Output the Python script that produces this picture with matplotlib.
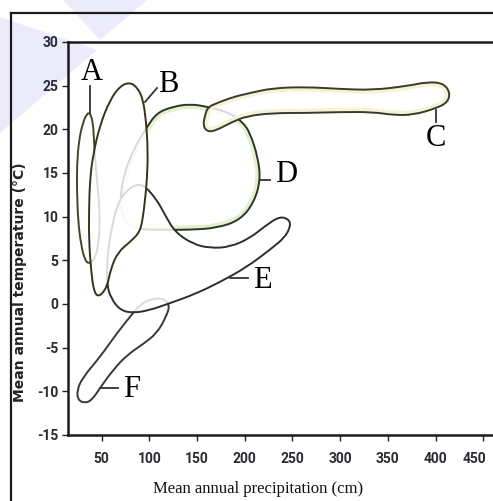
import numpy as np
import matplotlib
matplotlib.use("Agg")
import matplotlib.pyplot as plt
from matplotlib.path import Path
from matplotlib.patches import PathPatch, Polygon
from matplotlib.lines import Line2D
from matplotlib.transforms import ScaledTranslation

# biome outlines: (precipitation cm, temperature C)
a_precip = [37.7, 40.9, 41.9, 44.0, 47.2, 48.2, 46.1, 41.9, 36.7, 32.5, 28.3, 25.2, 24.1, 24.1, 26.2, 30.4, 34.6]
a_temp = [21.9, 20.8, 18.8, 15.3, 11.9, 9.0, 6.4, 5.0, 4.6, 5.0, 6.8, 9.6, 13.1, 15.9, 18.8, 20.8, 21.8]

b_precip = [79.7, 88.1, 93.3, 96.4, 98.5, 97.5, 95.4, 93.3, 90.1, 79.7, 67.1, 59.7, 55.6, 47.2, 41.9, 38.8, 36.7, 36.7, 37.7, 40.9, 48.2, 58.7, 69.2]
b_temp = [25.4, 24.7, 23.4, 21.1, 17.6, 14.2, 11.9, 9.95, 8.24, 7.1, 5.95, 4.1, 1.9, 0.79, 1.36, 3.88, 7.32, 10.76, 14.19, 17.06, 20.49, 23.36, 24.96]

c_precip = [158.3, 161.4, 170.9, 187.6, 205.5, 229.6, 265.2, 299.8, 334.4, 370.0, 391.0, 407.8, 415.1, 413.0, 401.5, 376.3, 355.3, 334.4, 299.8, 265.2, 229.6, 202.3, 186.6, 170.9, 161.4, 156.2]
c_temp = [21.64, 22.55, 23.01, 23.70, 24.16, 24.73, 24.85, 24.62, 24.50, 24.96, 25.42, 25.30, 24.27, 23.13, 22.44, 21.64, 21.64, 21.98, 21.98, 21.87, 21.87, 21.52, 20.84, 19.92, 19.69, 20.38]

d_precip = [97.5, 108.0, 124.7, 142.6, 160.4, 184.5, 198.0, 205.5, 213.8, 216.5, 209.6, 195.0, 170.9, 142.6, 121.6, 100.6, 90.1, 79.7, 72.3, 69.2, 72.3, 82.8]
d_temp = [20.3, 21.9, 22.6, 22.9, 22.6, 21.9, 20.8, 19.6, 16.8, 14.2, 11.6, 9.6, 8.7, 8.5, 8.5, 8.5, 8.6, 8.9, 9.95, 11.6, 14.5, 17.6]

e_precip = [95.4, 108.0, 116.4, 126.8, 145.7, 163.5, 184.5, 205.5, 221.2, 236.9, 247.4, 247.4, 241.1, 228.5, 202.3, 174.0, 147.8, 121.6, 100.6, 82.8, 69.2, 59.7, 55.6, 55.6, 57.7, 61.8, 67.1, 76.5, 87.0]
e_temp = [13.5, 11.9, 10.2, 8.24, 6.86, 6.40, 6.52, 7.55, 8.92, 10.07, 9.61, 8.69, 7.55, 6.40, 4.23, 2.51, 1.13, 0.10, -0.70, -1.04, -0.70, 0.68, 2.16, 4.46, 6.98, 9.38, 11.56, 13.05, 13.73]

f_precip = [82.8, 66.0, 48.2, 30.4, 24.1, 25.2, 32.5, 39.8, 48.2, 61.8, 76.5, 93.3, 108.0, 117.4, 121.6, 114.3, 100.6, 90.1]
f_temp = [-1.04, -3.33, -6.08, -8.37, -9.86, -11.01, -11.35, -11.0, -9.63, -7.57, -5.85, -4.6, -3.33, -1.5, -0.13, 0.68, 0.56, -0.13]

labels = ["A", "B", "C", "D", "E", "F"]
label_x = [39.8, 119.5, 400.4, 243.2, 218.0, 81.8]
label_y = [26.56, 25.19, 19.0, 14.8, 2.74, -9.75]
# leader lines ([x0, x1], [y0, y1])
leaders = {
    "A": ([37.7, 37.7], [24.96, 21.87]),
    "B": ([95.4, 108.0], [23.13, 24.73]),
    "C": ([400.4, 400.4], [22.21, 20.84]),
    "D": ([215.9, 226.4], [14.19, 14.19]),
    "E": ([184.5, 203.4], [2.97, 2.97]),
    "F": ([48.2, 67.1], [-9.63, -9.63]),
}

xticks = [50, 100, 150, 200, 250, 300, 350, 400, 450]
yticks = [-15, -10, -5, 0, 5, 10, 15, 20, 25, 30]


def smooth_path(xs, ys):
    pts = np.column_stack([xs, ys])
    mids = (pts + np.roll(pts, -1, axis=0)) / 2
    verts = [mids[-1]]
    codes = [Path.MOVETO]
    for i in range(len(pts)):
        verts += [pts[i], mids[i]]
        codes += [Path.CURVE3, Path.CURVE3]
    return Path(verts, codes)


fig = plt.figure(figsize=(4.93, 5.01), dpi=100)

# pale watermark shapes
fig.add_artist(Polygon([(0, 1 - 17/501), (97/493, 1 - 50/501), (0, 1 - 133/501)],
                       closed=True, transform=fig.transFigure, color="#ebebfc", lw=0, zorder=0))
fig.add_artist(Polygon([(63/493, 1.0), (147/493, 1.0), (100/493, 1 - 40/501)],
                       closed=True, transform=fig.transFigure, color="#ebebfc", lw=0, zorder=0))

# outer frame
fig.add_artist(Line2D([11/493, 11/493], [0, 1 - 13/501], transform=fig.transFigure, color="#1a1a1a", lw=1.6))
fig.add_artist(Line2D([11/493, 1], [1 - 13/501, 1 - 13/501], transform=fig.transFigure, color="#1a1a1a", lw=1.6))

ax = fig.add_axes([68/493, 1 - 435/501, 1 - 68/493, (435 - 42)/501])
ax.patch.set_alpha(0)
ax.set_xlim(14.7, 460.2)
ax.set_ylim(-15, 30)

shapes = [
    (f_precip, f_temp, "#383838", None, 1),
    (d_precip, d_temp, "#2c3628", "#e4f0cc", 2),
    (a_precip, a_temp, "#45432a", None, 3),
    (e_precip, e_temp, "#2e2e2e", None, 4),
    (c_precip, c_temp, "#3a3a2a", "#f4f4d4", 5),
    (b_precip, b_temp, "#36341f", None, 6),
]
for xs, ys, col, glow, z in shapes:
    p = smooth_path(xs, ys)
    fill = PathPatch(p, facecolor=(1, 1, 1, 0.82), edgecolor="none", zorder=z)
    ax.add_patch(fill)
    if glow:
        g = PathPatch(p, facecolor="none", edgecolor=glow, lw=6, zorder=z + 0.1)
        ax.add_patch(g)
        g.set_clip_path(fill)
    ax.add_patch(PathPatch(p, facecolor="none", edgecolor=col, lw=1.4, zorder=z + 0.2))

for lab, lx, ly in zip(labels, label_x, label_y):
    xs, ys = leaders[lab]
    ax.plot(xs, ys, color="#333333", lw=1.3, zorder=8)
    ax.text(lx, ly, lab, fontsize=22, family=["Liberation Serif", "DejaVu Serif"],
            ha="center", va="center", zorder=9)

for s in ["top", "left", "bottom"]:
    ax.spines[s].set_linewidth(1.8)
    ax.spines[s].set_color("#1c1c1c")
ax.spines["right"].set_visible(False)

ax.set_xticks(xticks)
ax.set_xticklabels([str(v) for v in xticks])
ax.set_yticks(yticks)
ax.set_yticklabels([str(v) for v in yticks])
ax.tick_params(axis="both", direction="out", length=4, width=1, color="#222222")
ax.tick_params(axis="x", pad=8)
ax.tick_params(axis="y", pad=3)
for t in ax.get_xticklabels() + ax.get_yticklabels():
    t.set_family(["Roboto", "DejaVu Sans"])
    t.set_fontweight("bold")
    t.set_fontsize(10)
    t.set_color("#2a2a33")
# last label sits a little left of its tick, as in the source
last = ax.get_xticklabels()[-1]
last.set_transform(last.get_transform() + ScaledTranslation(-0.09, 0, fig.dpi_scale_trans))

fig.text(20/493, 1 - 282/501, "Mean annual temperature (\u00b0C)", rotation=90,
         ha="center", va="center", fontsize=10, fontweight="bold", color="#222222")
fig.text(258/493, 1 - 489/501, "Mean annual precipitation (cm)", ha="center", va="center",
         fontsize=12, family=["Liberation Serif", "DejaVu Serif"], color="#111111")

fig.savefig("out.png", dpi=100)
